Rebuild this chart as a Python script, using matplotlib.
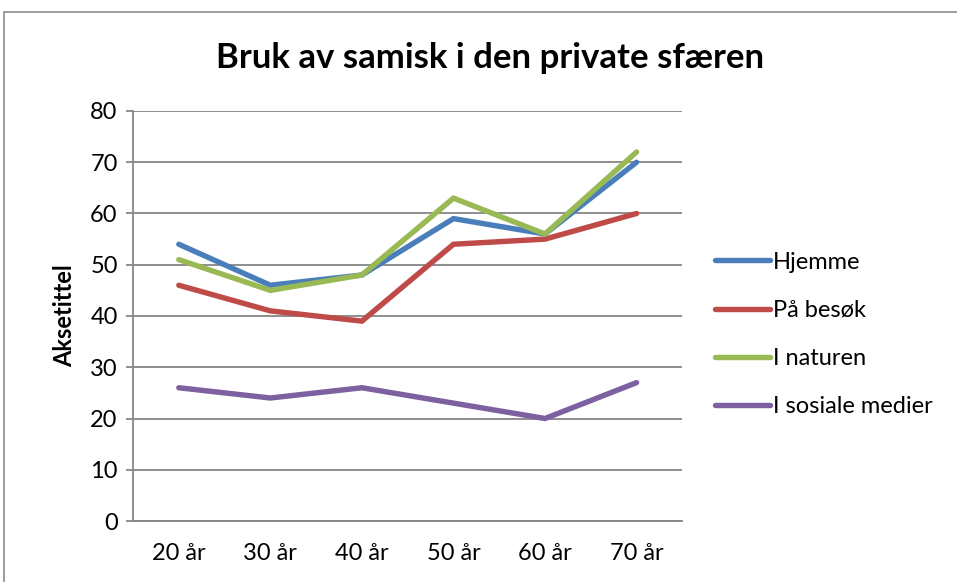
import matplotlib.pyplot as plt
from matplotlib.patches import Rectangle

plt.rcParams['font.family'] = ['Lato', 'DejaVu Sans']

categories = ['20 år', '30 år', '40 år', '50 år', '60 år', '70 år']
hjemme = [54, 46, 48, 59, 56, 70]
paa_besok = [46, 41, 39, 54, 55, 60]
i_naturen = [51, 45, 48, 63, 56, 72]
sosiale_medier = [26, 24, 26, 23, 20, 27]

series = [
    ('Hjemme', hjemme, '#4A7EBB'),
    ('På besøk', paa_besok, '#BE4B48'),
    ('I naturen', i_naturen, '#98B954'),
    ('I sosiale medier', sosiale_medier, '#7D60A0'),
]

fig = plt.figure(figsize=(9.57, 5.82), dpi=100)
ax = fig.add_axes([0.139, 0.1048, 0.574, 0.7045])

# chart frame (extends past the right and bottom edge, like the cropped original)
fig.patches.append(Rectangle((4 / 957, -0.1), 1.2, 1 - 12 / 582 + 0.1,
                             transform=fig.transFigure, fill=False,
                             edgecolor='#8c8c8c', linewidth=1.2))

x = range(len(categories))
for name, vals, col in series:
    ax.plot(x, vals, color=col, linewidth=3.9, label=name,
            solid_capstyle='round', solid_joinstyle='miter')

ax.set_xlim(-0.5, len(categories) - 0.5)
ax.set_ylim(0, 80)
ax.set_yticks(range(0, 81, 10))
ax.set_xticks(list(x))
ax.set_xticklabels(categories)
ax.yaxis.grid(True, color='#868686', linewidth=1.3)
ax.set_axisbelow(True)

for s in ['top', 'right']:
    ax.spines[s].set_visible(False)
ax.spines['left'].set_color('#868686')
ax.spines['bottom'].set_color('#868686')
ax.spines['left'].set_linewidth(1.3)
ax.spines['bottom'].set_linewidth(1.3)
ax.tick_params(axis='y', length=5, color='#868686', width=1.3, labelsize=17, pad=6)
ax.tick_params(axis='x', length=0, labelsize=17, pad=16)

ax.set_ylabel('Aksetittel', fontsize=17, fontweight='bold', labelpad=10)
fig.text(0.512, 0.90, 'Bruk av samisk i den private sfæren',
         ha='center', va='center', fontsize=25, fontweight='bold')

leg = ax.legend(loc='center left', bbox_to_anchor=(1.02, 0.455), frameon=False,
                fontsize=17, handlelength=2.35, handletextpad=0.12,
                labelspacing=1.15)

fig.savefig('out.png', dpi=100)
